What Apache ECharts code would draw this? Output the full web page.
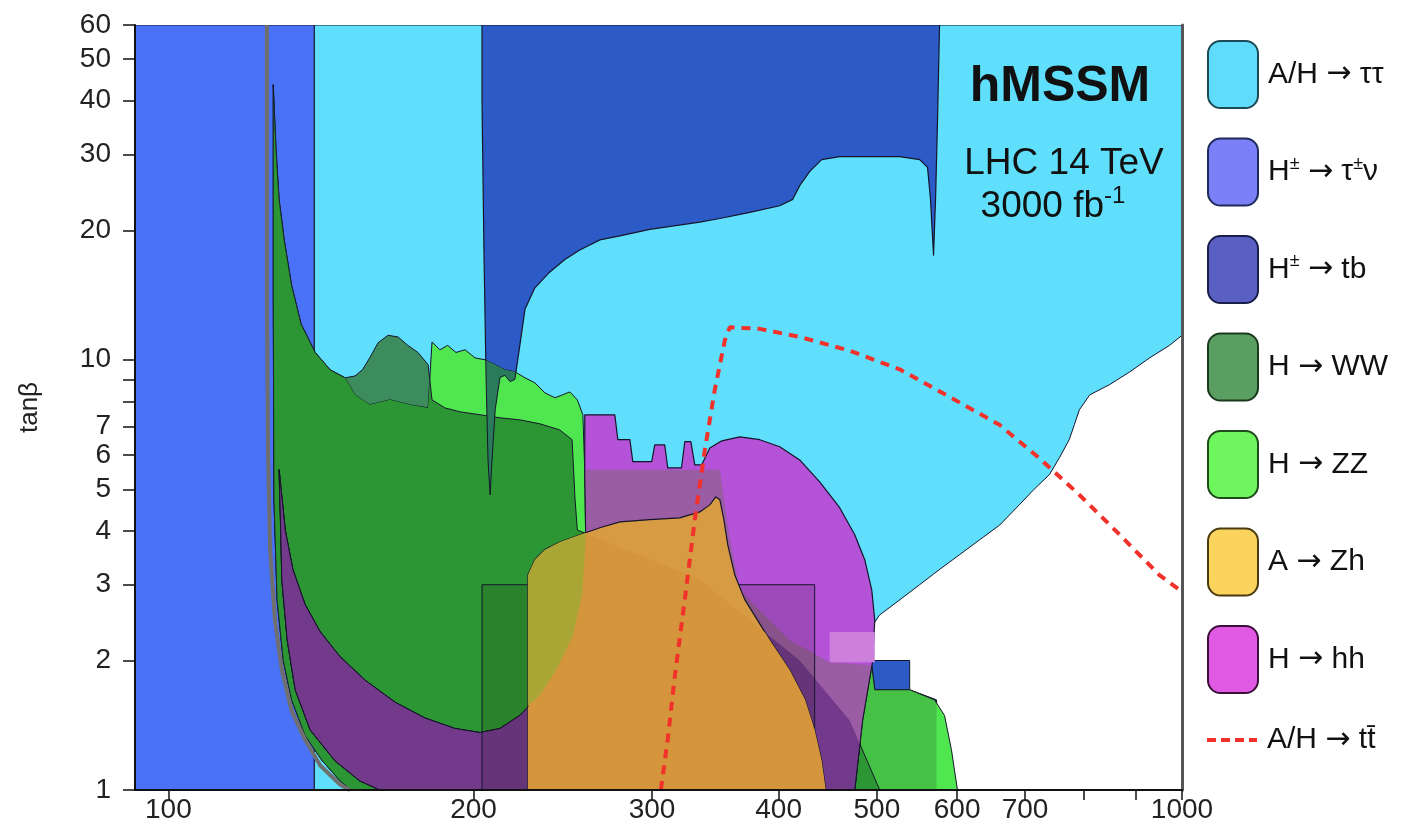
<!DOCTYPE html>
<html>
<head>
<meta charset="utf-8">
<script src="https://cdn.jsdelivr.net/npm/echarts@6/dist/echarts.min.js"></script>
<style>
html,body{margin:0;padding:0;background:#fff;}
#c{width:1408px;height:830px;}
</style>
</head>
<body>
<div id="c"></div>
<script>
// ---------------- data (mA [GeV], tanβ) ----------------
const xTickValues = [100,200,300,400,500,600,700,800,900,1000];
const xLabelValues = [100,200,300,400,500,600,700,1000];
const yTickValues = [1,2,3,4,5,6,7,8,9,10,20,30,40,50,60];
const yLabelValues = [1,2,3,4,5,6,7,10,20,30,40,50,60];
const xRange = [92.7, 1000];
const yRange = [1, 60];

// A/H -> tautau
const tautau = [[92.7,60],[1000,60],[1000,11.4],[972,10.8],[929,10.1],[888,9.37],[848,8.75],[811,8.29],[792,7.65],[783,7.06],[774,6.52],[757,5.92],[740,5.41],[714,4.99],[691,4.6],[661,4.13],[631,3.81],[603,3.52],[576,3.25],[551,3.0],[527,2.77],[503,2.55],[492,2.36],[449.2,2.33],[449.2,1.0],[92.7,1.0]];
// H+- -> tau nu
const taunu = [[92.7,1],[92.7,60],[139.3,60],[139.3,1]];
// H+- -> tb (high tanβ)
const tbHigh = [[203.9,60],[576.5,60],[573.9,36.2],[571.3,23.6],[568.7,17.5],[564.8,23.6],[561.0,28.0],[551.0,29.2],[526.6,29.65],[459.5,29.65],[441.1,29.2],[429.3,27.4],[419.6,25.4],[413.0,23.6],[401.0,22.8],[374.6,22.0],[350.0,21.3],[334.4,20.9],[298.5,20.1],[278.9,19.4],[266.5,19.0],[254.6,18.0],[246.1,17.1],[237.9,16.0],[229.9,14.7],[224.8,13.1],[222.2,10.8],[219.7,9.0],[217.3,8.9],[214.8,9.2],[212.4,9.1],[210.1,7.65],[208.6,5.85],[207.7,4.85],[206.7,5.85],[205.8,9.0],[204.8,18.0],[203.9,40.2]];
// H+- -> tb (low tanβ)
const tbLow = [[480,2.0],[538.7,2.0],[538.7,1.71],[572.6,1.62],[572.6,1.0],[480,1.0]];
// H -> WW
const hWW = [[126.9,43.6],[127.7,30.8],[128.6,23.6],[130.1,19.0],[132.3,14.9],[135.2,12.1],[139.6,10.4],[144.4,9.48],[149.4,9.08],[152.8,9.17],[155.4,9.48],[158.0,10.1],[161.0,10.95],[164.7,11.4],[168.5,11.3],[172.3,10.8],[176.3,10.4],[180.4,9.74],[182.0,8.07],[187.4,7.73],[193.9,7.57],[203.0,7.45],[212.4,7.33],[222.2,7.25],[232.5,7.1],[243.3,6.87],[250.2,6.52],[251.9,4.73],[253.2,4.02],[334.4,3.08],[419.6,2.0],[470.1,1.45],[503.3,1.0],[151.6,1.0],[147.7,1.05],[141.8,1.17],[136.4,1.34],[132.3,1.62],[129.8,2.0],[128.0,2.77],[127.1,4.73],[126.9,13.8]];
// H -> ZZ
const hZZ = [[126.9,43.6],[127.7,30.8],[128.6,23.6],[130.1,19.0],[132.3,14.9],[135.2,12.1],[139.6,10.4],[144.4,9.48],[149.4,9.08],[152.8,8.29],[158.0,7.86],[165.4,8.07],[173.1,7.86],[180.4,7.73],[182.0,11.0],[185.3,10.55],[188.6,10.8],[192.2,10.4],[196.2,10.55],[200.7,10.1],[205.3,10.0],[210.1,9.74],[214.8,9.48],[219.7,9.38],[224.8,9.08],[229.9,8.84],[235.2,8.38],[240.6,8.16],[244.9,8.29],[248.9,8.42],[253.2,8.07],[256.4,7.45],[257.5,5.55],[350,5.55],[357,4.0],[366.2,2.92],[410.2,2.23],[449.2,1.98],[494.2,1.95],[497.6,1.71],[538.7,1.71],[570,1.62],[583.1,1.49],[592.3,1.24],[600.5,1.0],[151.6,1.0],[147.7,1.05],[141.8,1.17],[136.4,1.34],[132.3,1.62],[129.8,2.0],[128.0,2.77],[127.1,4.73],[126.9,13.8]];
// H -> hh
const hhh = [[257.5,7.45],[275.7,7.45],[277.6,6.52],[285.3,6.52],[287.2,5.80],[299.8,5.80],[301.9,6.34],[308.8,6.34],[310.9,5.61],[320.8,5.61],[323.2,6.45],[327.7,6.45],[330.6,5.70],[335.9,5.70],[342.1,6.24],[351.6,6.48],[366.2,6.62],[383.2,6.52],[401.0,6.28],[419.6,5.85],[439.1,5.20],[459.5,4.53],[475.5,3.92],[486.4,3.43],[494.2,2.92],[497.6,2.48],[495.3,2.0],[484,1.45],[475.5,1.0],[161.7,1.0],[154.5,1.05],[146.0,1.17],[138.0,1.38],[133.4,1.71],[131.0,2.23],[129.4,3.08],[129.0,4.24],[128.6,5.55],[130.4,4.02],[132.7,3.25],[136.4,2.70],[141.2,2.33],[147.7,2.04],[156.3,1.80],[167.3,1.60],[179.1,1.47],[191.7,1.39],[203.0,1.36],[212.4,1.39],[222.2,1.49],[232.5,1.66],[242.0,1.92],[250.7,2.29],[256.0,2.84],[258.1,3.81],[257.5,5.55]];
const hhOverWhite = [[449.2,2.33],[497.6,2.33],[497.6,1.98],[449.2,1.98]];
// A -> Zh
const aZh = [[226.3,1.0],[226.3,3.16],[229.9,3.43],[235.2,3.62],[243.3,3.77],[254.6,3.92],[266.5,4.07],[278.9,4.20],[298.5,4.25],[319.5,4.29],[334.4,4.43],[342.1,4.6],[346.8,4.8],[350.0,4.73],[353.2,4.25],[356.4,3.71],[362.1,3.16],[370.4,2.77],[392.1,2.23],[410.2,1.90],[424.8,1.62],[434.1,1.38],[441.1,1.17],[445.2,1.0]];
const aZhBox = [[203.9,1.0],[203.9,3.0],[434.1,3.0],[434.1,1.0]];
const aZhOverGreen = [[226.3,3.16],[229.9,3.43],[235.2,3.62],[243.3,3.77],[254.6,3.92],[258.1,3.96],[258.1,3.81],[256.0,2.84],[250.7,2.29],[242.0,1.92],[232.5,1.66],[226.3,1.57]];
// theory boundary
const boundary = [[125.1,60],[125.1,13.8],[125.4,6.18],[126.0,3.62],[127.4,2.48],[129.4,1.90],[132.3,1.53],[136.4,1.31],[141.2,1.14],[147.7,1.03],[151.0,1.0]];
// A/H -> tt
const ttLine = [[306.1,1.0],[310.9,1.31],[315.6,1.80],[323.2,2.77],[330.6,4.24],[338.3,6.18],[346.0,8.52],[354.0,11.1],[358.0,11.9],[383.2,11.8],[419.6,11.3],[470.1,10.5],[526.6,9.5],[589.7,8.2],[660.6,7.06],[723.4,5.9],[792.3,4.85],[868,3.92],[950,3.16],[1000,2.89]];

// ---------------- chart ----------------
const lg = v => Math.log10(v);
const L = p => [lg(p[0]), lg(p[1])];
const FONT = '"Liberation Sans", Arial, Helvetica, sans-serif';
const EDGE = '#15152a';

// polygon layer, optionally clipped by other regions (overlap shading)
function area(name, pts, fill, stroke, lw, clips) {
  const d = pts.map(L);
  const clipD = (clips || []).map(c => c.map(L));
  return {
    type: 'custom', name: name, coordinateSystem: 'cartesian2d',
    data: d, encode: {x: 0, y: 1}, silent: true,
    itemStyle: {color: fill},
    renderItem: function (params, api) {
      if (params.dataIndex !== 0) return {type: 'group', children: []};
      const toPx = arr => arr.map(p => api.coord(p));
      const cs = params.coordSys;
      let el = {
        type: 'polygon',
        shape: {points: toPx(d)},
        style: {fill: fill, stroke: stroke || null, lineWidth: lw || 0, lineJoin: 'round'}
      };
      if (clipD.length > 0) el.clipPath = {type: 'polygon', shape: {points: toPx(clipD[0])}};
      for (let i = 1; i < clipD.length; i++) {
        el = {type: 'group', children: [el], clipPath: {type: 'polygon', shape: {points: toPx(clipD[i])}}};
      }
      return {type: 'group', children: [el],
        clipPath: {type: 'rect', shape: {x: cs.x, y: cs.y, width: cs.width, height: cs.height}}};
    }
  };
}

const series = [
  area('tautau', tautau, '#5fdffc', EDGE, 1),
  area('taunu', taunu, '#4a72f6', EDGE, 1.2),
  area('tb', tbHigh, '#2c5bc8', EDGE, 1.2),
  area('tb', tbLow, '#2c5bc8', EDGE, 1),
  area('WW', hWW, '#3c8c5e', EDGE, 1),
  area('ZZ', hZZ, '#50e650', EDGE, 1),
  area('zzOverTb', hZZ, '#45c246', EDGE, 1, [tbLow]),
  area('wwzz', hWW, '#2d9634', EDGE, 1, [hZZ]),
  area('tbOverGreen', tbHigh, '#2a7a5c', EDGE, 1, [hZZ]),
  area('hh', hhh, '#b452d8', EDGE, 1.2),
  area('hhOverZZ', hhh, '#9a5ca2', EDGE, 1, [hZZ]),
  area('hhOverWWZZ', hhh, '#733a8c', EDGE, 1, [hZZ, hWW]),
  area('hhOverWhite', hhOverWhite, '#cd7fdc', null, 0),
  area('zhBox', aZhBox, 'rgba(30,20,0,0.14)', EDGE, 1),
  area('Zh', aZh, '#d79b43', EDGE, 1.2),
  area('zhOverHh', aZh, '#d4953c', null, 0, [hhh, hWW]),
  area('zhOverGreen', aZhOverGreen, '#aaa636', null, 0),
  {
    type: 'line', name: 'bound', data: boundary.map(L), showSymbol: false, symbol: 'none',
    lineStyle: {color: '#6f6f6f', width: 4}, silent: true, z: 3
  },
  {
    type: 'line', name: 'tt', data: ttLine.map(L), showSymbol: false, symbol: 'none',
    lineStyle: {color: '#f2312b', width: 4, type: [9, 7]}, itemStyle: {color: '#f2312b'}, silent: true, z: 4
  }
];

const legendNames = {
  tautau: 'A/H {a|→} ττ', taunu: 'H{s|±} {a|→} τ{s|±}ν', tb: 'H{s|±} {a|→} tb', WW: 'H {a|→} WW',
  ZZ: 'H {a|→} ZZ', Zh: 'A {a|→} Zh', hh: 'H {a|→} hh', tt: 'A/H {a|→} tt\u0304'
};
const legendBoxes = [
  ['tautau', '#5fdcfb', '#1e4a55'],
  ['taunu', '#7b80f9', '#1e2a5a'],
  ['tb', '#5a5fc2', '#1a1f4a'],
  ['WW', '#5b9e62', '#1a3a1e'],
  ['ZZ', '#6ff55e', '#1f4a1a'],
  ['Zh', '#fad45c', '#4a3a10'],
  ['hh', '#e05ae3', '#3a103a']
];
const legendText = {
  fontSize: 30, color: '#111', fontFamily: FONT, padding: [0, 0, 0, 5],
  rich: {
    s: {fontSize: 18, verticalAlign: 'top', fontFamily: FONT, color: '#111', padding: [0, 0, 16, 0]},
    a: {fontSize: 30, fontFamily: '"DejaVu Sans"', color: '#111'}
  }
};

const option = {
  backgroundColor: '#ffffff',
  animation: false,
  grid: {left: 135, right: 226, top: 25, bottom: 40},
  xAxis: [{
    type: 'value', min: lg(xRange[0]), max: lg(xRange[1]), z: 10,
    axisLine: {show: true, lineStyle: {color: '#111', width: 2}},
    axisTick: {show: true, customValues: xTickValues.map(lg), length: 10, lineStyle: {color: '#111', width: 1.5}},
    axisLabel: {customValues: xLabelValues.map(lg), formatter: v => String(Math.round(Math.pow(10, v))), fontSize: 28, color: '#222', fontFamily: FONT, margin: 6},
    splitLine: {show: false}
  }, {
    type: 'value', position: 'top', min: lg(xRange[0]), max: lg(xRange[1]), z: 10,
    axisLine: {show: true, lineStyle: {color: '#111', width: 2}},
    axisTick: {show: false}, axisLabel: {show: false}, splitLine: {show: false}
  }],
  yAxis: [{
    type: 'value', min: lg(yRange[0]), max: lg(yRange[1]), z: 10,
    name: 'tanβ', nameLocation: 'middle', nameGap: 92, nameRotate: 90,
    nameTextStyle: {fontSize: 26, color: '#222', fontFamily: FONT},
    axisLine: {show: true, lineStyle: {color: '#111', width: 2}},
    axisTick: {show: true, customValues: yTickValues.map(lg), length: 12, lineStyle: {color: '#111', width: 1.5}},
    axisLabel: {customValues: yLabelValues.map(lg), formatter: v => String(Math.round(Math.pow(10, v))), fontSize: 28, color: '#222', fontFamily: FONT, margin: 24},
    splitLine: {show: false}
  }, {
    type: 'value', position: 'right', min: lg(yRange[0]), max: lg(yRange[1]), z: 10,
    axisLine: {show: true, lineStyle: {color: '#555', width: 3}},
    axisTick: {show: false}, axisLabel: {show: false}, splitLine: {show: false}
  }],
  legend: [{
    orient: 'vertical', left: 1207, top: 40, padding: 0, itemWidth: 50, itemHeight: 67, itemGap: 28.5,
    icon: 'roundRect', selectedMode: false,
    data: legendBoxes.map(b => ({name: b[0], itemStyle: {color: b[1], borderColor: b[2], borderWidth: 2}})),
    formatter: n => legendNames[n],
    textStyle: legendText
  }, {
    orient: 'vertical', left: 1207, top: 725, padding: 0, itemWidth: 50, itemHeight: 5,
    selectedMode: false,
    icon: 'path://M0 0H9V4H0ZM14 0H23V4H14ZM28 0H37V4H28ZM42 0H50V4H42Z',
    data: [{name: 'tt', itemStyle: {color: '#f2312b'}}],
    formatter: n => legendNames[n],
    textStyle: legendText
  }],
  graphic: [
    {type: 'text', z: 100, style: {text: 'hMSSM', x: 1060, y: 87, align: 'center', verticalAlign: 'middle', fontSize: 50, fontWeight: 'bold', fontFamily: FONT, fill: '#111'}},
    {type: 'text', z: 100, style: {text: 'LHC 14 TeV', x: 1064, y: 164, align: 'center', verticalAlign: 'middle', fontSize: 37, fontFamily: FONT, fill: '#111'}},
    {type: 'text', z: 100, style: {text: '3000 fb{s|-1}', x: 1053, y: 207, align: 'center', verticalAlign: 'middle', fontSize: 37, fontFamily: FONT, fill: '#111',
      rich: {s: {fontSize: 24, verticalAlign: 'top', fontFamily: FONT, fill: '#111', padding: [0, 0, 22, 0]}}}}
  ],
  series: series
};

const chart = echarts.init(document.getElementById('c'), null, {renderer: 'canvas'});
chart.setOption(option);
</script>
</body>
</html>
